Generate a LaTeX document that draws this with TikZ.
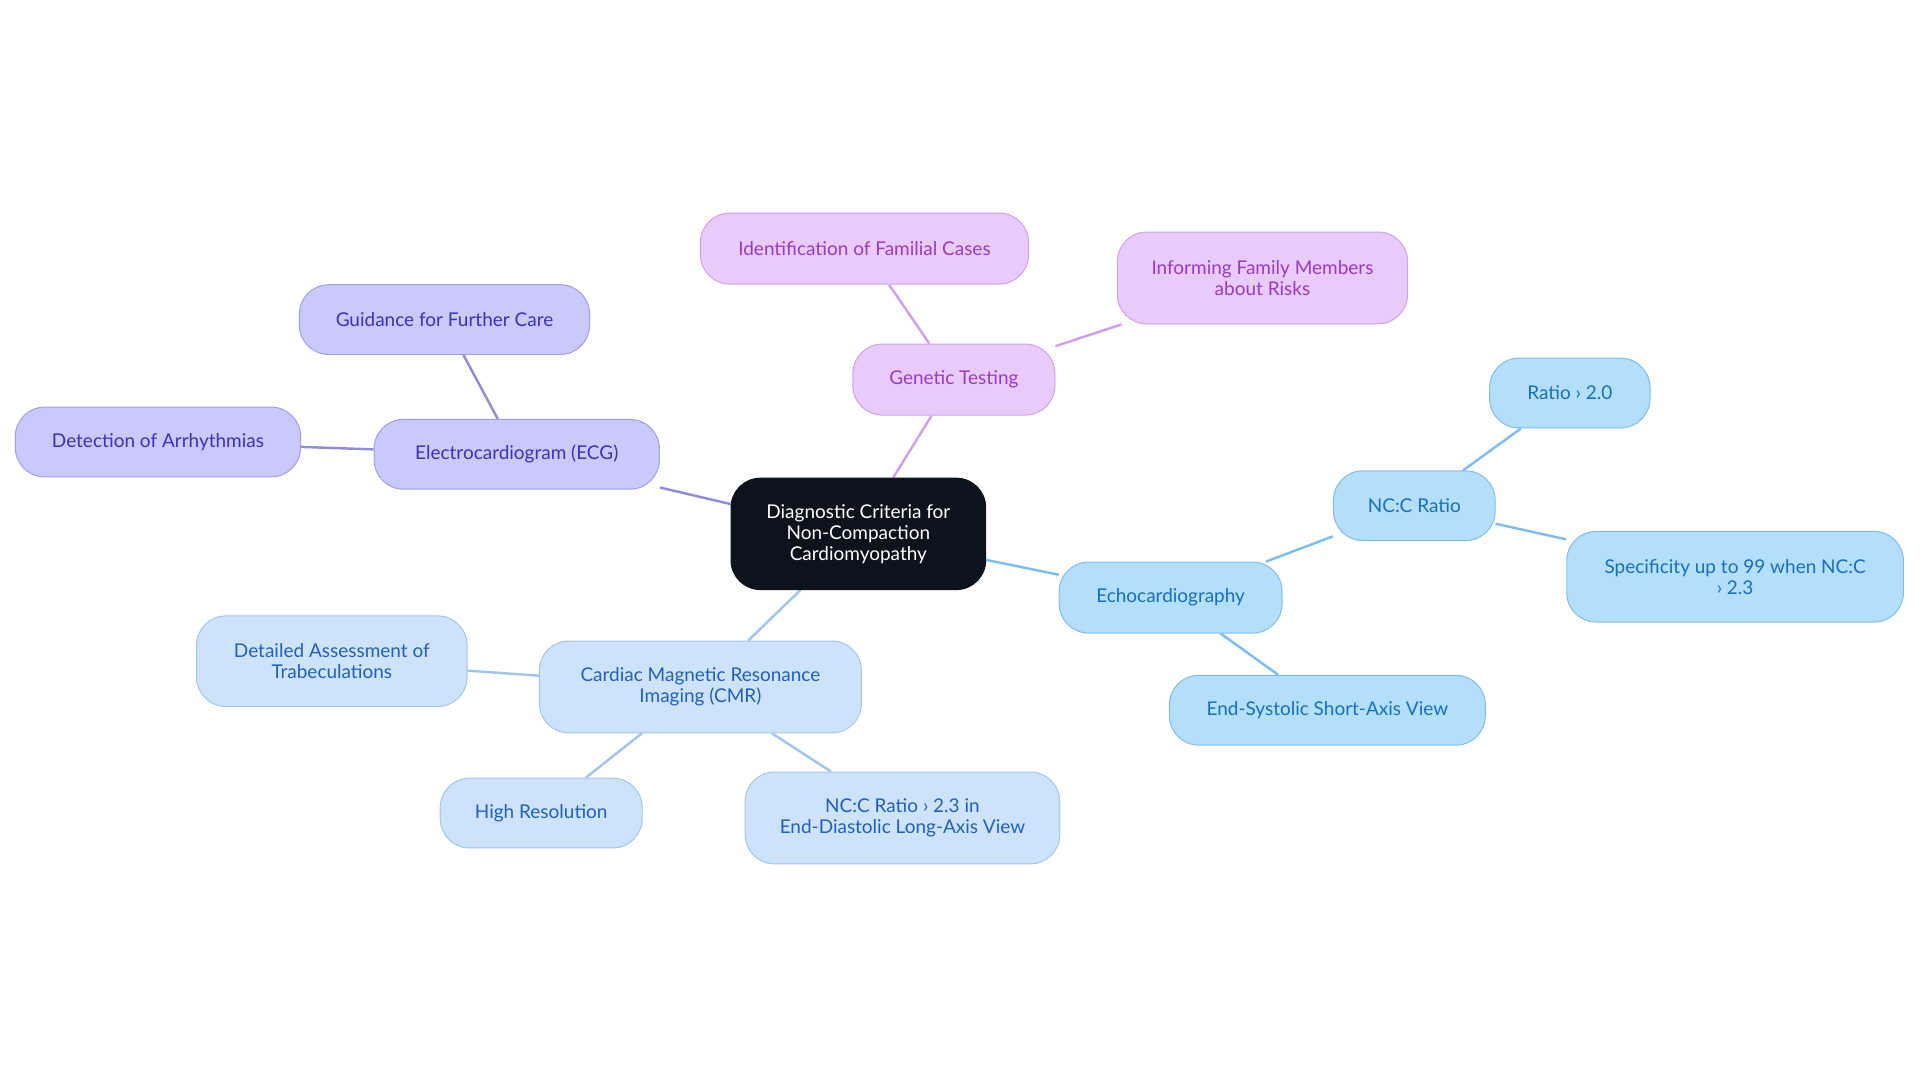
\documentclass[tikz,border=0pt]{standalone}
\usepackage{fontspec}
\setmainfont{Lato}
\usetikzlibrary{backgrounds}
\definecolor{cdark}{HTML}{0D131C}
\definecolor{pf}{HTML}{C9C9FB}\definecolor{pt}{HTML}{3A32C0}\definecolor{pb}{HTML}{A09CF0}
\definecolor{gf}{HTML}{E8CAFB}\definecolor{gt}{HTML}{9B3AC9}\definecolor{gb}{HTML}{CFA0F0}
\definecolor{ef}{HTML}{B3DEFC}\definecolor{et}{HTML}{1670C0}\definecolor{eb}{HTML}{7DBDF0}
\definecolor{cf}{HTML}{CDE3FB}\definecolor{ct}{HTML}{2060C0}\definecolor{cb}{HTML}{A0C6F0}
\tikzset{
 box/.style={rounded corners=24pt, align=center, font=\fontsize{15.5}{17}\selectfont, inner sep=0pt, line width=0.8pt},
 bx/.style n args={2}{minimum width=#1pt, minimum height=#2pt},
 pn/.style={box, fill=pf, draw=pb, text=pt},
 gn/.style={box, fill=gf, draw=gb, text=gt},
 en/.style={box, fill=ef, draw=eb, text=et},
 cn/.style={box, fill=cf, draw=cb, text=ct},
 pl/.style={draw=pb!90!black, line width=2pt},
 gl/.style={draw=gb, line width=2pt},
 el/.style={draw=eb, line width=2pt},
 cl/.style={draw=cb, line width=2pt},
}
\begin{document}
\begin{tikzpicture}[x=1pt,y=-1pt]
\useasboundingbox (0,0) rectangle (1568,885);
\node[box, fill=cdark, text=white, draw=cdark, bx={208}{91}] (c) at (701,436) {Diagnostic Criteria for\\Non-Compaction\\Cardiomyopathy};
\node[pn, bx={233}{57}] (ecg) at (422,371) {Electrocardiogram (ECG)};
\node[pn, bx={237}{57}] (gui) at (363,261) {Guidance for Further Care};
\node[pn, bx={233}{57}] (det) at (129,361) {Detection of Arrhythmias};
\node[gn, bx={165}{58}] (gen) at (779,310) {Genetic Testing};
\node[gn, bx={268}{58}] (idf) at (706,203) {Identification of Familial Cases};
\node[gn, bx={237}{75}] (inf) at (1031,227) {Informing Family Members\\about Risks};
\node[en, bx={182}{58}] (echo) at (956,488) {Echocardiography};
\node[en, bx={132}{57}] (ncr) at (1155,413) {NC:C Ratio};
\node[en, bx={131}{57}] (r20) at (1282,321) {Ratio › 2.0};
\node[en, bx={275}{74}] (spec) at (1417,471) {Specificity up to 99 when NC:C\\› 2.3};
\node[en, bx={258}{57}] (esv) at (1084,580) {End-Systolic Short-Axis View};
\node[cn, bx={263}{75}] (cmr) at (572,561) {Cardiac Magnetic Resonance\\Imaging (CMR)};
\node[cn, bx={221}{74}] (dta) at (271,540) {Detailed Assessment of\\Trabeculations};
\node[cn, bx={165}{57}] (hr) at (442,664) {High Resolution};
\node[cn, bx={257}{75}] (nc23) at (737,668) {NC:C Ratio › 2.3 in\\End-Diastolic Long-Axis View};
\begin{scope}[on background layer]
\draw[pl] (c) -- (ecg); \draw[pl] (ecg) -- (gui); \draw[pl] (ecg) -- (det);
\draw[gl] (c) -- (gen); \draw[gl] (gen) -- (idf); \draw[gl] (gen) -- (inf);
\draw[el] (c) -- (echo); \draw[el] (echo) -- (ncr); \draw[el] (ncr) -- (r20); \draw[el] (ncr) -- (spec); \draw[el] (echo) -- (esv);
\draw[cl] (c) -- (cmr); \draw[cl] (cmr) -- (dta); \draw[cl] (cmr) -- (hr); \draw[cl] (cmr) -- (nc23);
\end{scope}
\end{tikzpicture}
\end{document}
